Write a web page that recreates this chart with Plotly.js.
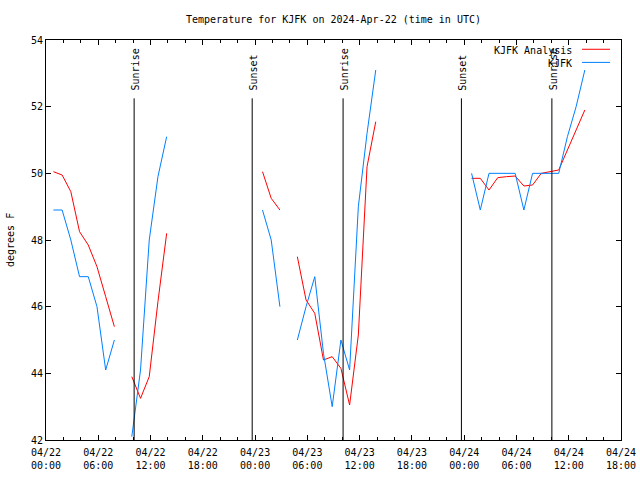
<!DOCTYPE html>
<html>
<head>
<meta charset="utf-8">
<script src="https://cdn.plot.ly/plotly-3.0.1.min.js"></script>
<style>html,body{margin:0;padding:0;background:#fff;}#chart{width:640px;height:480px;}</style>
</head>
<body>
<div id="chart"></div>
<script>
// Observation times (UTC); null values mark gaps in the record
const times = [
  "2024-04-22 00:51","2024-04-22 01:51","2024-04-22 02:51","2024-04-22 03:51","2024-04-22 04:51","2024-04-22 05:51","2024-04-22 06:51","2024-04-22 07:51",
  "2024-04-22 08:51",
  "2024-04-22 09:51","2024-04-22 10:51","2024-04-22 11:51","2024-04-22 12:51","2024-04-22 13:51",
  "2024-04-22 14:51",
  "2024-04-23 00:51","2024-04-23 01:51","2024-04-23 02:51",
  "2024-04-23 03:51",
  "2024-04-23 04:51","2024-04-23 05:51","2024-04-23 06:51","2024-04-23 07:51","2024-04-23 08:51","2024-04-23 09:51","2024-04-23 10:51","2024-04-23 11:51","2024-04-23 12:51","2024-04-23 13:51",
  "2024-04-23 14:51",
  "2024-04-24 00:51","2024-04-24 01:51","2024-04-24 02:51","2024-04-24 03:51","2024-04-24 04:51","2024-04-24 05:51","2024-04-24 06:51","2024-04-24 07:51","2024-04-24 08:51","2024-04-24 09:51","2024-04-24 10:51","2024-04-24 11:51","2024-04-24 12:51","2024-04-24 13:51"
];
const analysisTemps = [
  50.05,49.95,49.45,48.25,47.85,47.2,46.3,45.4,
  null,
  43.9,43.25,43.9,46.15,48.2,
  null,
  50.05,49.25,48.9,
  null,
  47.5,46.2,45.8,44.4,44.5,44.15,43.05,45.15,50.2,51.55,
  null,
  49.85,49.85,49.5,49.87,49.9,49.92,49.62,49.65,50.0,50.05,50.1,50.7,51.3,51.9
];
const observedTemps = [
  48.9,48.9,48.0,46.9,46.9,46.0,44.1,45.0,
  null,
  42.1,44.1,48.0,49.9,51.1,
  null,
  48.9,48.0,46.0,
  null,
  45.0,46.0,46.9,44.6,43.0,45.0,44.1,49.0,51.2,53.1,
  null,
  50.0,48.9,50.0,50.0,50.0,50.0,48.9,50.0,50.0,50.0,50.0,51.1,52.0,53.1
];
const seriesNames = ["KJFK Analysis", "KJFK"];
const sunEvents = ["Sunrise","Sunset","Sunrise","Sunset","Sunrise"];
const sunTimes = ["2024-04-22 10:07","2024-04-22 23:40","2024-04-23 10:06","2024-04-23 23:41","2024-04-24 10:04"];
const tickVals = ["2024-04-22 00:00","2024-04-22 06:00","2024-04-22 12:00","2024-04-22 18:00","2024-04-23 00:00","2024-04-23 06:00","2024-04-23 12:00","2024-04-23 18:00","2024-04-24 00:00","2024-04-24 06:00","2024-04-24 12:00","2024-04-24 18:00"];
const tickText = ["04/22<br>00:00","04/22<br>06:00","04/22<br>12:00","04/22<br>18:00","04/23<br>00:00","04/23<br>06:00","04/23<br>12:00","04/23<br>18:00","04/24<br>00:00","04/24<br>06:00","04/24<br>12:00","04/24<br>18:00"];

const FONT = "DejaVu Sans Mono, monospace";
const RED = "#ff0000", BLUE = "#0080ff";
const lineTop = 52.25;

const traces = [
  {x: times, y: analysisTemps, type: "scatter", mode: "lines", name: seriesNames[0],
   line: {color: RED, width: 1}, connectgaps: false, showlegend: false},
  {x: times, y: observedTemps, type: "scatter", mode: "lines", name: seriesNames[1],
   line: {color: BLUE, width: 1}, connectgaps: false, showlegend: false}
];

const shapes = sunTimes.map(t => ({
  type: "line", xref: "x", yref: "y", x0: t, x1: t, y0: 42, y1: lineTop,
  line: {color: "#000", width: 1}
}));
// legend samples
shapes.push({type:"line", xref:"paper", yref:"paper", x0:0.9322, x1:0.9809, y0:0.9768, y1:0.9768, line:{color:RED, width:1}});
shapes.push({type:"line", xref:"paper", yref:"paper", x0:0.9322, x1:0.9809, y0:0.944, y1:0.944, line:{color:BLUE, width:1}});

const annotations = sunEvents.map((s, i) => ({
  text: s, x: sunTimes[i], y: lineTop, xref: "x", yref: "y",
  textangle: -90, xanchor: "center", yanchor: "bottom", yshift: 6, xshift: 1,
  showarrow: false, font: {family: FONT, size: 10, color: "#000"}
}));
annotations.push({text: seriesNames[0], xref:"paper", yref:"paper", x:0.9183, y:0.975, xanchor:"right", yanchor:"middle", showarrow:false, font:{family:FONT, size:10, color:"#000"}});
annotations.push({text: seriesNames[1], xref:"paper", yref:"paper", x:0.9183, y:0.9418, xanchor:"right", yanchor:"middle", showarrow:false, font:{family:FONT, size:10, color:"#000"}});
annotations.push({text: "degrees F", xref:"paper", yref:"paper", x:-0.0626, y:0.5, xanchor:"center", yanchor:"middle", textangle:-90, showarrow:false, font:{family:FONT, size:10, color:"#000"}});

const layout = {
  width: 640, height: 480,
  margin: {l: 46, r: 19, t: 40, b: 40},
  paper_bgcolor: "#fff", plot_bgcolor: "#fff",
  font: {family: FONT, size: 10, color: "#000"},
  title: {text: "Temperature for KJFK on 2024-Apr-22 (time in UTC)", x: 0.5, xref: "paper", y: 0.96, yref: "container", yanchor: "middle", font: {family: FONT, size: 10, color: "#000"}},
  xaxis: {
    type: "date", range: ["2024-04-22 00:00", "2024-04-24 18:00"],
    tickmode: "array", tickvals: tickVals, ticktext: tickText,
    ticks: "inside", ticklen: 5, tickcolor: "#000", tickwidth: 1,
    ticklabelstandoff: 3,
    minor: {tickmode: "linear", tick0: "2024-04-22 00:00", dtick: 7200000, ticks: "inside", ticklen: 3, tickcolor: "#000", showgrid: false},
    showline: true, linecolor: "#000", linewidth: 1, mirror: "allticks",
    showgrid: false, zeroline: false, fixedrange: true,
    tickfont: {family: FONT, size: 10, color: "#000"}
  },
  yaxis: {
    range: [42, 54], tickmode: "linear", tick0: 42, dtick: 2,
    ticks: "inside", ticklen: 5, tickcolor: "#000", tickwidth: 1,
    showline: true, linecolor: "#000", linewidth: 1, mirror: "allticks",
    showgrid: false, zeroline: false, fixedrange: true,
    tickfont: {family: FONT, size: 10, color: "#000"}
  },
  shapes: shapes,
  annotations: annotations,
  showlegend: false
};

Plotly.newPlot("chart", traces, layout, {staticPlot: true, displayModeBar: false});
</script>
</body>
</html>
